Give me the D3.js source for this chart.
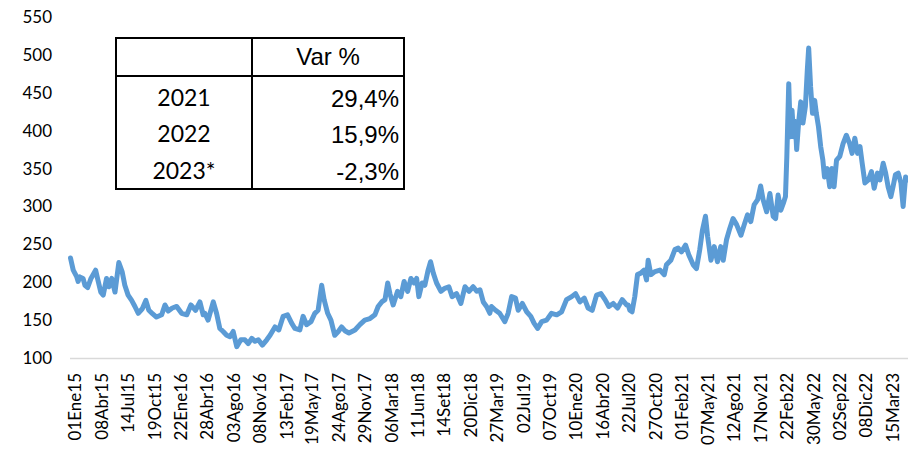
<!DOCTYPE html>
<html>
<head>
<meta charset="utf-8">
<script src="https://cdn.jsdelivr.net/npm/d3@7"></script>
<style>
  body { margin: 0; background: #fff; }
  svg { display: block; }
</style>
</head>
<body>
<svg id="chart" width="908" height="451"></svg>
<script>
// price series
const series = [
  ["2015-01-01",232],["2015-01-11",216],["2015-01-24",207],["2015-01-29",201],["2015-02-04",207],["2015-02-16",205],
  ["2015-02-23",196],["2015-03-05",193],["2015-03-17",205],["2015-04-03",216],["2015-04-10",205],["2015-04-22",187],
  ["2015-05-01",183],["2015-05-13",205],["2015-05-22",194],["2015-06-01",205],["2015-06-13",187],["2015-06-27",226],
  ["2015-07-09",214],["2015-07-19",196],["2015-07-31",183],["2015-08-13",176],["2015-08-25",168],["2015-09-06",159],
  ["2015-09-21",165],["2015-10-04",176],["2015-10-15",163],["2015-10-27",159],["2015-11-12",154],["2015-12-01",157],
  ["2015-12-13",170],["2015-12-25",162],
  ["2016-01-09",166],["2016-01-25",168],["2016-02-12",159],["2016-03-02",157],["2016-03-17",170],["2016-04-03",163],
  ["2016-04-19",174],["2016-05-01",157],["2016-05-07",159],["2016-05-19",150],["2016-06-07",174],["2016-06-19",159],
  ["2016-07-01",139],["2016-07-13",135],["2016-07-26",130],["2016-08-07",128],["2016-08-19",135],["2016-09-01",115],
  ["2016-09-16",124],["2016-10-01",124],["2016-10-13",119],["2016-10-26",126],["2016-11-07",122],["2016-11-19",124],
  ["2016-12-04",117],["2016-12-20",124],
  ["2017-01-01",130],["2017-01-19",141],["2017-02-02",137],["2017-02-18",155],["2017-03-06",157],["2017-03-21",146],
  ["2017-04-02",139],["2017-04-20",137],["2017-05-02",155],["2017-05-15",144],["2017-05-31",148],["2017-06-14",159],
  ["2017-06-26",163],["2017-07-09",196],["2017-07-18",177],["2017-07-31",159],["2017-08-12",150],["2017-08-26",130],
  ["2017-09-08",135],["2017-09-20",141],["2017-10-02",136],["2017-10-17",133],["2017-11-08",137],["2017-11-26",144],
  ["2017-12-14",150],
  ["2018-01-02",152],["2018-01-20",157],["2018-02-01",168],["2018-02-14",174],["2018-02-26",177],["2018-03-08",199],
  ["2018-03-16",185],["2018-03-28",170],["2018-04-13",188],["2018-04-25",181],["2018-05-07",201],["2018-05-20",188],
  ["2018-06-01",205],["2018-06-13",199],["2018-06-22",205],["2018-06-30",181],["2018-07-12",199],["2018-07-22",196],
  ["2018-08-03",216],["2018-08-12",227],["2018-08-22",212],["2018-09-03",199],["2018-09-19",188],["2018-10-03",192],
  ["2018-10-18",194],["2018-10-30",181],["2018-11-15",185],["2018-12-01",172],["2018-12-16",194],["2018-12-31",188],
  ["2019-01-15",194],["2019-01-28",188],["2019-02-09",190],["2019-02-21",174],["2019-03-05",168],["2019-03-17",159],
  ["2019-03-23",168],["2019-04-07",163],["2019-04-22",159],["2019-05-11",148],["2019-05-23",159],["2019-06-05",181],
  ["2019-06-19",179],["2019-06-29",163],["2019-07-14",172],["2019-07-30",161],["2019-08-14",155],["2019-08-26",146],
  ["2019-09-08",139],["2019-09-23",148],["2019-10-11",150],["2019-10-29",159],["2019-11-17",157],["2019-12-05",161],
  ["2019-12-23",177],
  ["2020-01-11",181],["2020-01-25",185],["2020-02-10",174],["2020-02-26",179],["2020-03-11",166],["2020-03-26",163],
  ["2020-04-11",183],["2020-04-27",185],["2020-05-12",177],["2020-05-26",168],["2020-06-11",172],["2020-06-27",166],
  ["2020-07-14",177],["2020-07-30",170],["2020-08-05",170],["2020-08-11",163],["2020-08-19",161],["2020-08-29",181],
  ["2020-09-08",210],["2020-09-20",212],["2020-10-02",216],["2020-10-11",203],["2020-10-17",229],["2020-10-27",210],
  ["2020-11-11",214],["2020-11-29",216],["2020-12-15",210],["2020-12-23",223],
  ["2021-01-08",229],["2021-01-23",243],["2021-02-04",245],["2021-02-16",240],["2021-03-03",249],["2021-03-15",236],
  ["2021-03-31",223],["2021-04-12",218],["2021-04-24",243],["2021-05-04",269],["2021-05-15",287],["2021-05-23",260],
  ["2021-06-04",229],["2021-06-16",247],["2021-06-28",227],["2021-07-10",247],["2021-07-19",229],["2021-07-31",256],
  ["2021-08-12",271],["2021-08-24",284],["2021-09-06",276],["2021-09-22",262],["2021-10-04",276],["2021-10-16",289],
  ["2021-10-28",280],["2021-11-09",302],["2021-11-22",309],["2021-12-03",327],["2021-12-12",309],["2021-12-25",293],
  ["2022-01-06",317],["2022-01-18",287],["2022-01-27",284],["2022-02-05",315],["2022-02-15",295],["2022-02-24",304],
  ["2022-03-04",313],["2022-03-09",366],["2022-03-16",462],["2022-03-22",392],["2022-03-28",427],["2022-04-03",392],
  ["2022-04-09",412],["2022-04-14",375],["2022-04-21",410],["2022-04-29",438],["2022-05-07",410],["2022-05-16",432],
  ["2022-05-23",480],["2022-05-28",509],["2022-06-04",458],["2022-06-11",423],["2022-06-19",440],["2022-06-25",423],
  ["2022-07-03",405],["2022-07-11",379],["2022-07-19",361],["2022-07-25",339],["2022-08-04",350],["2022-08-13",326],
  ["2022-08-21",350],["2022-08-29",326],["2022-09-07",361],["2022-09-19",366],["2022-10-01",383],["2022-10-13",394],
  ["2022-10-25",383],["2022-11-03",370],["2022-11-13",390],["2022-11-23",370],["2022-12-02",379],["2022-12-10",357],
  ["2022-12-20",331],
  ["2023-01-02",335],["2023-01-13",346],["2023-01-23",324],["2023-02-04",344],["2023-02-13",335],["2023-02-25",357],
  ["2023-03-06",344],["2023-03-15",326],["2023-03-25",313],["2023-04-02",326],["2023-04-11",342],["2023-04-21",344],
  ["2023-05-01",331],["2023-05-09",300],["2023-05-18",339],["2023-05-25",335]
];

const tickDates = ["2015-01-01","2015-04-08","2015-07-14","2015-10-19","2016-01-22","2016-04-28","2016-08-03",
  "2016-11-08","2017-02-13","2017-05-19","2017-08-24","2017-11-29","2018-03-06","2018-06-11","2018-09-14",
  "2018-12-20","2019-03-27","2019-07-02","2019-10-07","2020-01-10","2020-04-16","2020-07-22","2020-10-27",
  "2021-02-01","2021-05-07","2021-08-12","2021-11-17","2022-02-22","2022-05-30","2022-09-02","2022-12-08","2023-03-15"];
const tickLabels = ["01Ene15","08Abr15","14Jul15","19Oct15","22Ene16","28Abr16","03Ago16","08Nov16","13Feb17",
  "19May17","24Ago17","29Nov17","06Mar18","11Jun18","14Set18","20Dic18","27Mar19","02Jul19","07Oct19","10Ene20",
  "16Abr20","22Jul20","27Oct20","01Feb21","07May21","12Ago21","17Nov21","22Feb22","30May22","02Sep22","08Dic22","15Mar23"];
const yTicks = [100, 150, 200, 250, 300, 350, 400, 450, 500, 550];

// small table of yearly change
const tableHeader = ["", "Var %"];
const tableYears = ["2021", "2022", "2023*"];
const tableVar = ["29,4%", "15,9%", "-2,3%"];

const parse = d3.timeParse('%Y-%m-%d');
const data = series.map(d => ({ date: parse(d[0]), value: d[1] }));

const svg = d3.select('#chart');
const plotLeft = 70.5, plotRight = 907.5, plotTop = 17, plotBottom = 358;

const x = d3.scaleTime()
  .domain([parse('2015-01-01'), parse('2023-05-25')])
  .range([plotLeft, plotRight]);
const y = d3.scaleLinear().domain([100, 550]).range([plotBottom, plotTop]);

// y axis labels only
const yAxis = svg.append('g')
  .attr('transform', 'translate(57,0)')
  .call(d3.axisLeft(y).tickValues(yTicks).tickSize(0).tickPadding(5));
yAxis.select('.domain').remove();
yAxis.selectAll('text')
  .style('font-family', 'Lato, sans-serif')
  .style('font-size', '17px')
  .style('fill', '#000');

// x axis
const xAxis = svg.append('g')
  .attr('transform', `translate(0,${plotBottom})`)
  .call(d3.axisBottom(x)
    .tickValues(tickDates.map(parse))
    .tickFormat((d, i) => tickLabels[i])
    .tickSize(0));
xAxis.select('.domain')
  .attr('d', `M${plotLeft - 0.5},0.5H${plotRight + 1}`)
  .style('stroke', '#d9d9d9')
  .style('stroke-width', 1.3);
xAxis.selectAll('text')
  .attr('transform', 'rotate(-90)')
  .attr('x', -15)
  .attr('y', 0)
  .attr('dy', '0.6em')
  .style('text-anchor', 'end')
  .style('font-family', 'Lato, sans-serif')
  .style('font-size', '17px')
  .style('fill', '#000');

// the line
const line = d3.line()
  .x(d => x(d.date))
  .y(d => y(d.value));

svg.append('path')
  .datum(data)
  .attr('d', line)
  .style('fill', 'none')
  .style('stroke', '#5b9bd5')
  .style('stroke-width', 5)
  .style('stroke-linejoin', 'round')
  .style('stroke-linecap', 'round');

// table
const tb = svg.append('g');
const tx0 = 116, tx1 = 252, tx2 = 404;
const rowY = [38, 76, 189];

tb.append('rect')
  .attr('x', tx0).attr('y', rowY[0])
  .attr('width', tx2 - tx0).attr('height', rowY[2] - rowY[0])
  .style('fill', '#fff')
  .style('stroke', '#000')
  .style('stroke-width', 2);
tb.append('line')
  .attr('x1', tx0).attr('x2', tx2).attr('y1', rowY[1]).attr('y2', rowY[1])
  .style('stroke', '#000').style('stroke-width', 2);
tb.append('line')
  .attr('x1', tx1).attr('x2', tx1).attr('y1', rowY[0]).attr('y2', rowY[2])
  .style('stroke', '#000').style('stroke-width', 2);

tb.append('text')
  .text(tableHeader[1])
  .attr('x', (tx1 + tx2) / 2)
  .attr('y', 57)
  .attr('dy', '0.35em')
  .style('text-anchor', 'middle')
  .style('font-family', '"Liberation Sans", Arial, sans-serif')
  .style('font-size', '24px');

const rowCenters = [98, 134, 171];
tableYears.forEach(function (yr, i) {
  tb.append('text')
    .text(yr)
    .attr('x', (tx0 + tx1) / 2)
    .attr('y', rowCenters[i])
    .attr('dy', '0.36em')
    .style('text-anchor', 'middle')
    .style('font-family', 'Lato, sans-serif')
    .style('font-size', '23px');

  tb.append('text')
    .text(tableVar[i])
    .attr('x', 399)
    .attr('y', rowCenters[i])
    .attr('dy', '0.36em')
    .style('text-anchor', 'end')
    .style('font-family', '"Liberation Sans", Arial, sans-serif')
    .style('font-size', '24px');
});
</script>
</body>
</html>
